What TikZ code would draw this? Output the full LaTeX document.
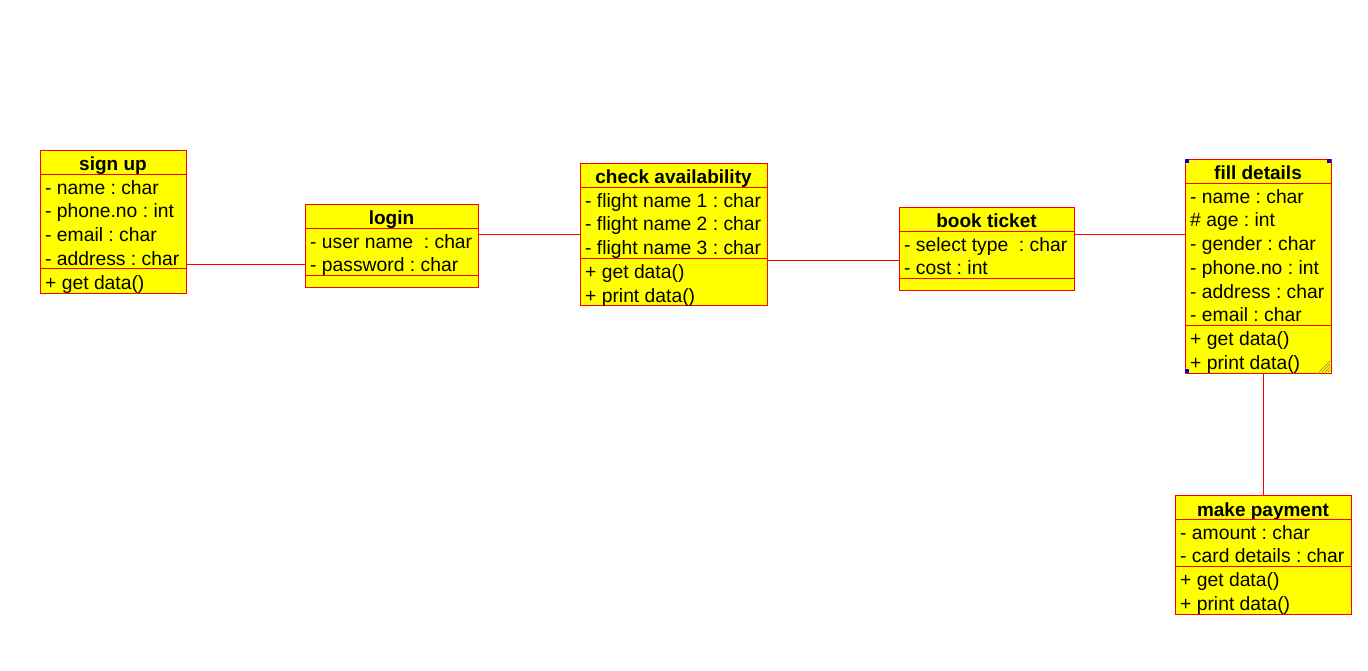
\documentclass[tikz,border=0pt]{standalone}
\usepackage{fontspec}
\setmainfont{Liberation Sans}
\frenchspacing
\usetikzlibrary{calc}
\definecolor{umlred}{RGB}{255,0,0}
\definecolor{umlyellow}{RGB}{255,255,0}
\definecolor{selblue}{RGB}{0,0,230}
\definecolor{gripgray}{RGB}{130,130,90}
\tikzset{
  classbox/.style={draw=umlred, fill=umlyellow, line width=0.9pt, rectangle, inner sep=0pt, outer sep=0pt},
  sep/.style={draw=umlred, line width=0.9pt},
  classtitle/.style={anchor=base, inner sep=0pt, font=\fontsize{19}{22}\selectfont\bfseries\frenchspacing},
  attr/.style={anchor=base west, inner sep=0pt, font=\fontsize{19.3}{22}\selectfont\frenchspacing},
  conn/.style={draw=umlred, line width=0.9pt},
}
\newcommand\umlclass[8]{%
  \node[classbox, minimum width=#4, minimum height=#5, anchor=north west] (#1) at (#2,#3) {};
  \node[classtitle] at ($(#1.north)+(0,21)$) {#6};
  \draw[sep] ($(#1.north west)+(0,24)$) -- ($(#1.north east)+(0,24)$);
  \gdef\nattr{0}%
  \foreach \a [count=\i] in {#7} {\node[attr] at ($(#1.north west)+(5,24+23.7*\i-3.5)$) {\a}; \xdef\nattr{\i}}
  \draw[sep] ($(#1.north west)+(0,24+23.7*\nattr)$) -- ($(#1.north east)+(0,24+23.7*\nattr)$);
  \def\tmpops{#8}%
  \ifx\tmpops\empty\else
    \foreach \o [count=\j] in {#8} {\node[attr] at ($(#1.north west)+(5,24+23.7*\nattr+23.7*\j-3.5)$) {\o};}
  \fi
}
\begin{document}
\begin{tikzpicture}[x=1pt,y=-1pt]
\useasboundingbox[fill=white] (0,0) rectangle (1368,671);

\umlclass{signup}{40}{150}{146}{143}{sign up}{- name : char,- phone.no : int,- email : char,- address : char}{+ get data()}
\umlclass{login}{305}{204}{173}{83}{login}{- user name~~: char,- password : char}{}
\umlclass{check}{580}{163}{187}{142}{check availability}{- flight name 1 : char,- flight name 2 : char,- flight name 3 : char}{+ get data(),+ print data()}
\umlclass{book}{899}{207}{175}{83}{book ticket}{- select type~~: char,- cost : int}{}
\umlclass{fill}{1185}{159}{146}{214}{fill details}{- name : char,\# age : int,- gender : char,- phone.no : int,- address : char,- email : char}{+ get data(),+ print data()}
\umlclass{pay}{1175}{495}{176}{119}{make payment}{- amount : char,- card details : char}{+ get data(),+ print data()}

% selection handles and resize grip on "fill details"
\fill[selblue] (fill.north west) rectangle +(4,4);
\fill[selblue] ($(fill.north east)+(-4,0)$) rectangle +(4,4);
\fill[selblue] ($(fill.south west)+(0,-4)$) rectangle +(4,4);
\foreach \d in {3,6,9,12} {\draw[gripgray, line width=0.6pt] ($(fill.south east)+(-\d,-1)$) -- ($(fill.south east)+(-1,-\d)$);}

% connectors
\coordinate (c1) at ($(signup.north east)+(0,114)$);
\draw[conn] (c1) -- (c1 -| login.west);
\coordinate (c2) at ($(login.north east)+(0,30)$);
\draw[conn] (c2) -- (c2 -| check.west);
\coordinate (c3) at ($(check.north east)+(0,97)$);
\draw[conn] (c3) -- (c3 -| book.west);
\coordinate (c4) at ($(book.north east)+(0,27)$);
\draw[conn] (c4) -- (c4 -| fill.west);
\coordinate (c5) at ($(fill.south west)+(78,0)$);
\draw[conn] (c5) -- (c5 |- pay.north);
\end{tikzpicture}
\end{document}
